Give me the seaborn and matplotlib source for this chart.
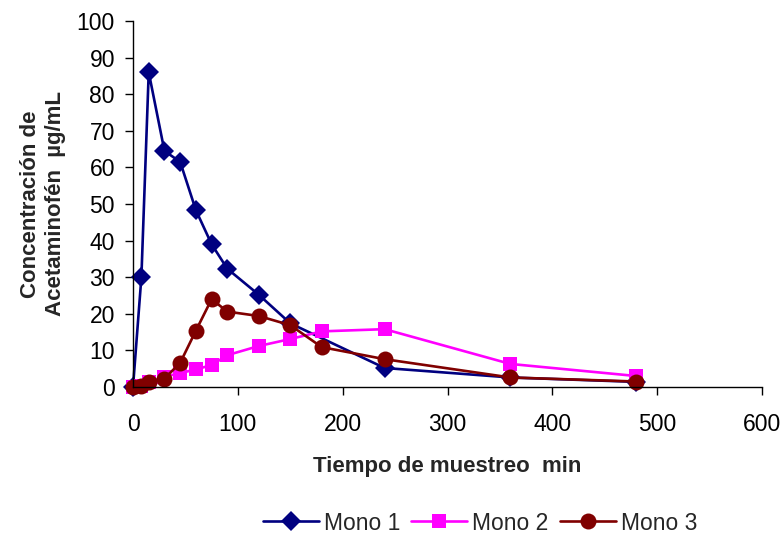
import matplotlib
matplotlib.use("Agg")
import matplotlib.pyplot as plt
import seaborn as sns
import pandas as pd
from matplotlib.lines import Line2D

tiempo = [0, 8, 15, 30, 45, 60, 75, 90, 120, 150, 180, 240, 360, 480]
mono1 = [0, 30, 86, 64.5, 61.5, 48.3, 39, 32.3, 25.2, 17.4, None, 5.2, 2.6, 1.4]
mono2 = [0, 0.3, 1.3, 2.8, 3.8, 4.8, 6, 8.7, 11.2, 13.1, 15.2, 15.8, 6.3, 3.0]
mono3 = [0, 0.3, 1.5, 2.3, 6.6, 15.4, 24, 20.6, 19.4, 16.9, 10.9, 7.6, 2.6, 1.5]
series_names = ["Mono 1", "Mono 2", "Mono 3"]

rows = []
for name, vals in zip(series_names, [mono1, mono2, mono3]):
    for t, v in zip(tiempo, vals):
        if v is not None:
            rows.append({"Tiempo": t, "Conc": v, "Serie": name})
df = pd.DataFrame(rows)

sns.set_style("white")
plt.rcParams["font.family"] = ["Liberation Sans", "DejaVu Sans"]

fig = plt.figure(figsize=(7.83, 5.35), dpi=100)
ax = fig.add_axes([133 / 783, 1 - 387 / 535, 629 / 783, 366 / 535])

palette = {"Mono 1": "#000080", "Mono 2": "#FF00FF", "Mono 3": "#800000"}
markers = {"Mono 1": "D", "Mono 2": "s", "Mono 3": "o"}
sizes = [10, 10.5, 11.5]
sns.lineplot(data=df, x="Tiempo", y="Conc", hue="Serie", style="Serie",
             palette=palette, markers=markers, dashes=False, ax=ax,
             linewidth=1.9, markersize=10, markeredgewidth=0, legend=False)
for line, ms in zip(ax.get_lines(), sizes):
    line.set_markersize(ms)
    line.set_clip_on(False)

ax.set_xlim(0, 600)
ax.set_ylim(0, 100)
ax.set_xticks(range(0, 601, 100))
ax.set_yticks(range(0, 101, 10))
ax.tick_params(axis="both", labelsize=16.5, direction="out", length=6, width=1,
               colors="black", left=True, bottom=True)
ax.tick_params(axis="x", pad=13)
ax.tick_params(axis="y", pad=7)
for s in ["top", "right"]:
    ax.spines[s].set_visible(False)
for s in ["left", "bottom"]:
    ax.spines[s].set_color("black")
    ax.spines[s].set_linewidth(1)

ax.set_xlabel("Tiempo de muestreo  min", fontsize=16, fontweight="bold", labelpad=14)
ax.set_ylabel("Concentración de\nAcetaminofén  µg/mL", fontsize=16, fontweight="bold", labelpad=8)

handles = [Line2D([], [], color=palette[n], marker=markers[n], markersize=ms, lw=1.9,
                  markeredgewidth=0) for n, ms in zip(series_names, sizes)]
fig.legend(handles, series_names, loc="center", bbox_to_anchor=(480 / 783, 1 - 523 / 535),
           ncol=3, frameon=False, fontsize=16.5, handlelength=2.45, handletextpad=0.22,
           columnspacing=0.48, borderpad=0, borderaxespad=0)

fig.savefig("out.png", dpi=100)
